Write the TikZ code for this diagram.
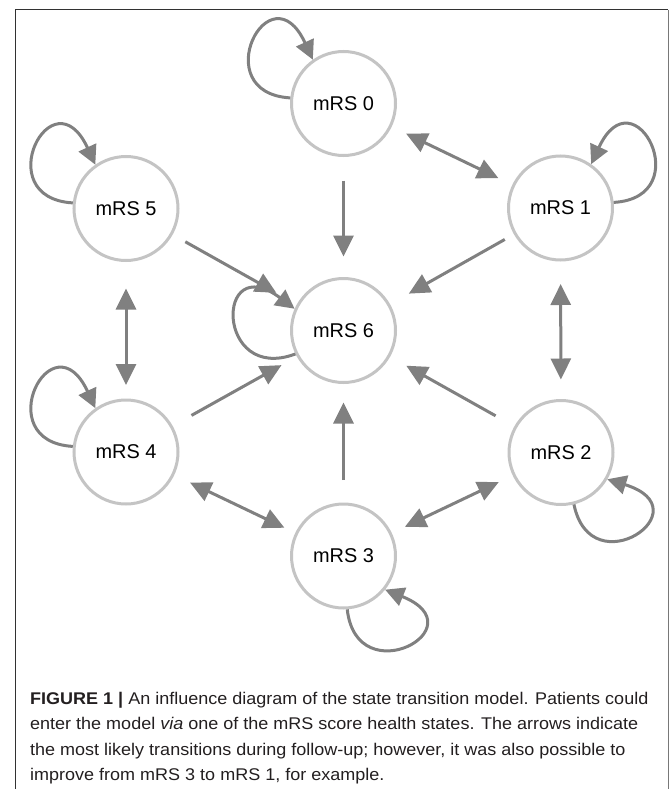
\documentclass[tikz,border=0pt]{standalone}
\usepackage{fontspec}
\setmainfont{Liberation Sans}
\usetikzlibrary{arrows.meta}
\definecolor{arrgray}{RGB}{128,128,128}
\definecolor{circgray}{RGB}{196,196,196}
\definecolor{framedark}{RGB}{50,50,50}
\definecolor{framelight}{RGB}{120,120,120}
\definecolor{captext}{RGB}{35,31,32}
\newcommand{\capx}[1]{\scalebox{1.063}[1]{#1}}
\tikzset{
  state/.style={circle, draw=circgray, line width=3bp, fill=white, minimum size=104bp, inner sep=0pt,
    font=\fontsize{20}{24}\selectfont},
  arr/.style={draw=arrgray, line width=3bp, -{Triangle[length=21bp,width=20bp]}},
  biarr/.style={draw=arrgray, line width=3bp, {Triangle[length=21bp,width=20bp]}-{Triangle[length=21bp,width=20bp]}},
  loopar/.style={draw=arrgray, line width=3bp, -{Triangle[length=19bp,width=19bp]}},
  capline/.style={anchor=base west, inner sep=0pt, text=captext, font=\fontsize{17}{20}\selectfont}
}
\begin{document}
\begin{tikzpicture}[x=1bp, y=-1bp]
\useasboundingbox (0,0) rectangle (670,789);
% frame
\coordinate (fbl) at (15,789);
\coordinate (ftl) at (15,10);
\coordinate (ftr) at (668,10);
\coordinate (fbr) at (668,789);
\draw[framedark, line width=1bp] (fbl) -- (ftl) -- (ftr);
\draw[framelight, line width=1bp] (ftr) -- (fbr);
% states
\node[state] (n0) at (343.5,103.5) {mRS 0};
\node[state] (n1) at (560.5,208) {mRS 1};
\node[state] (n2) at (561,452.5) {mRS 2};
\node[state] (n3) at (343.5,556) {mRS 3};
\node[state] (n4) at (126,452) {mRS 4};
\node[state] (n5) at (126,208.5) {mRS 5};
\node[state] (n6) at (343.5,330.5) {mRS 6};
% transitions to death
\draw[arr, shorten <=23.5bp, shorten >=20.5bp] (n0) -- (n6);
\draw[arr, shorten <=22.5bp, shorten >=18.5bp] (n3) -- (n6);
\draw[arr, shorten <=14.5bp, shorten >=23.5bp] (n5) -- (n6);
\draw[arr, shorten <=10.5bp, shorten >=21.5bp] (n1) -- (n6);
\draw[arr, shorten <=21.5bp, shorten >=17.5bp] (n4) -- (n6);
\draw[arr, shorten <=21.5bp, shorten >=18.5bp] (n2) -- (n6);
% two-way transitions
\draw[biarr, shorten <=16bp, shorten >=15.5bp] (n0) -- (n1);
\draw[biarr, shorten <=22.5bp, shorten >=19.5bp] (n1) -- (n2);
\draw[biarr, shorten <=26.5bp, shorten >=13.5bp] (n5) -- (n4);
\draw[biarr, shorten <=17.5bp, shorten >=12bp] (n4) -- (n3);
\draw[biarr, shorten <=14.5bp, shorten >=15.5bp] (n3) -- (n2);
% self loops
\draw[loopar] (n0.174) .. controls +(-85,-5) and +(-43,-93) .. (n0.125);
\draw[loopar] (n5.174) .. controls +(-85,-5) and +(-43,-93) .. (n5.125);
\draw[loopar] (n4.174) .. controls +(-85,-5) and +(-43,-93) .. (n4.125);
\draw[loopar] (n1.6) .. controls +(85,-5) and +(43,-93) .. (n1.55);
\draw[loopar] (n2.-76) .. controls +(17,83) and +(98,30) .. (n2.-30);
\draw[loopar] (n3.-86) .. controls +(9.5,85) and +(95,38) .. (n3.-39);
\draw[loopar] (n6.206) .. controls +(-80,30) and +(-80,-60) .. (n6.156);
% caption
\node[capline] (c1) at (30,704) {\capx{\textbf{FIGURE 1 |} An influence diagram of the state transition model. Patients could}};
\node[capline] (c2) at (30,729.5) {\capx{enter the model \textit{via} one of the mRS score health states. The arrows indicate}};
\node[capline] (c3) at (30,755) {\capx{the most likely transitions during follow-up; however, it was also possible to}};
\node[capline] (c4) at (30,780) {\capx{improve from mRS 3 to mRS 1, for example.}};
\end{tikzpicture}
\end{document}
